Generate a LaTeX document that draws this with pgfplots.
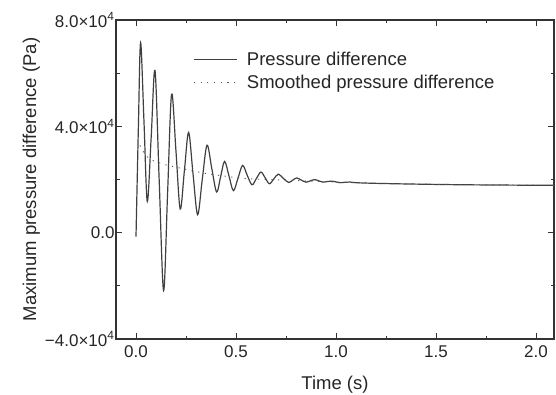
\documentclass[border=0pt]{standalone}
\usepackage{pgfplots}
\pgfplotsset{compat=1.18}
\usepackage{fontspec}
\setmainfont{Liberation Sans}
\begin{document}
\begin{tikzpicture}
\begin{axis}[
  scale only axis, width=438pt, height=319pt,
  at={(0pt,0pt)}, anchor=south west,
  xmin=-0.1, xmax=2.09, ymin=-40000, ymax=80000,
  xtick={0,0.5,1,1.5,2}, xticklabels={0.0,0.5,1.0,1.5,2.0},
  ytick={-40000,0,40000,80000},
  yticklabels={\textminus4.0×10\textsuperscript{4},0.0,4.0×10\textsuperscript{4},8.0×10\textsuperscript{4}},
  scaled y ticks=false, scaled x ticks=false,
  minor x tick num=1, minor y tick num=1,
  tick align=inside, xtick pos=both, ytick pos=both,
  major tick length=6pt, minor tick length=3.5pt,
  axis line style={line width=1.2pt, draw=black!80},
  every tick/.style={line width=1pt, black!80},
  tick label style={font=\fontsize{17}{20}\selectfont, text=black!85},
  xticklabel style={yshift=-3pt},
  yticklabel style={xshift=2pt},
  label style={font=\fontsize{18.5}{22}\selectfont, text=black!85},
  xlabel={Time (s)}, ylabel={Maximum pressure difference (Pa)},
  xlabel style={yshift=-12pt},
  ylabel style={yshift=-2pt},
  legend style={draw=none, fill=none, inner sep=0pt,
    at={(axis description cs:0.176,0.905)}, anchor=north west,
    font=\fontsize{18.5}{22}\selectfont, text=black!85,
    row sep=5pt, column sep=8pt, nodes={inner sep=1.5pt}},
  legend cell align=left,
  legend image code/.code={\draw[#1] (0pt,0pt) -- (43pt,0pt);},
]
\addplot[smooth, tension=0.55, black!75, line width=1.2pt] coordinates {
(0.000,-1500) (0.012,40000) (0.023,71500) (0.040,41600) (0.0565,11750)
(0.076,36000) (0.095,61000) (0.116,19600) (0.138,-21800) (0.158,15000)
(0.178,52100) (0.200,30500) (0.221,8900) (0.242,23300) (0.263,37700)
(0.285,22200) (0.308,6760) (0.331,19800) (0.355,32900) (0.379,24100)
(0.403,15300) (0.423,21000) (0.443,26800) (0.465,21300) (0.487,15800)
(0.510,20500) (0.533,25300) (0.556,21600) (0.580,18000) (0.602,20400)
(0.625,22800) (0.646,20600) (0.667,18400) (0.689,20200) (0.711,22000)
(0.737,20400) (0.763,18900) (0.783,19700) (0.803,20600) (0.826,19800)
(0.850,19000) (0.872,19500) (0.894,19950) (0.915,19450) (0.935,19000)
(0.955,19200) (0.975,19400) (1.000,19100) (1.020,18800) (1.045,18950)
(1.070,19050) (1.100,18800) (1.200,18550) (1.370,18300) (1.600,18050)
(1.850,17900) (2.090,17800)
};
\addlegendentry{Pressure difference}
\addplot[smooth, black!65, line width=0.9pt, dash pattern=on 1.2pt off 5.5pt] coordinates {
(0.02,32800) (0.05,29000) (0.088,27000) (0.15,25500) (0.22,24300)
(0.34,22400) (0.45,21200) (0.555,20300) (0.705,19900) (0.80,19600)
(0.90,19300) (1.00,19000) (1.20,18600) (1.50,18200) (2.09,17800)
};
\addlegendentry{Smoothed pressure difference}
\end{axis}
\pgfresetboundingbox
\path[use as bounding box] (-116pt,-55pt) rectangle (440pt,339pt);
\end{tikzpicture}
\end{document}
